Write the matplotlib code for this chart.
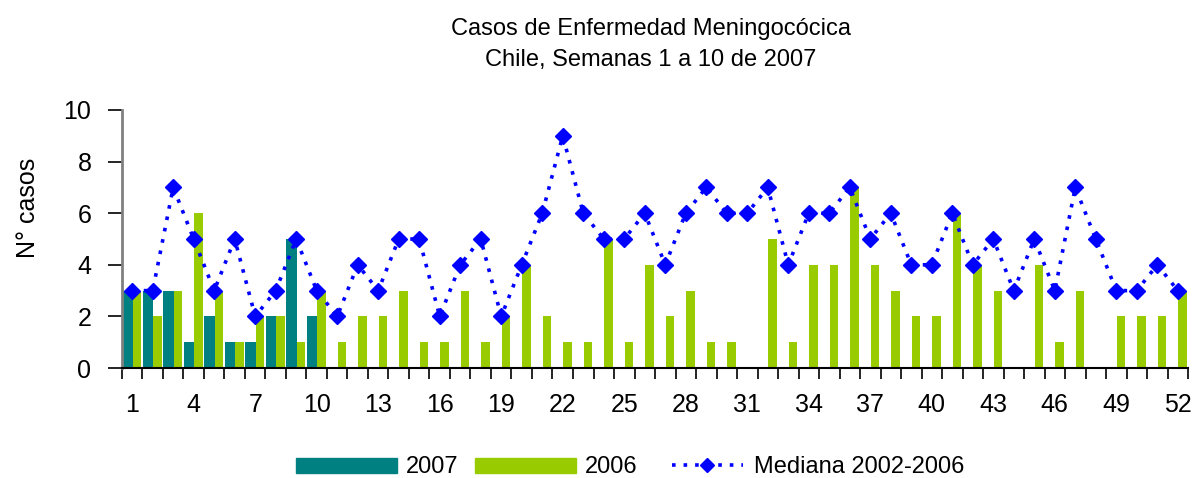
import numpy as np
import matplotlib.pyplot as plt
from matplotlib.lines import Line2D
from matplotlib.patches import Patch

plt.rcParams['font.family'] = ['Liberation Sans', 'DejaVu Sans']

# Semanas epidemiológicas
semanas = np.arange(1, 53)

# Casos 2007 (solo semanas 1 a 10)
casos_2007 = [3, 3, 3, 1, 2, 1, 1, 2, 5, 2]

# Casos 2006
casos_2006 = [3, 2, 3, 6, 3, 1, 2, 2, 1, 3,
              1, 2, 2, 3, 1, 1, 3, 1, 2, 4,
              2, 1, 1, 5, 1, 4, 2, 3, 1, 1,
              0, 5, 1, 4, 4, 7, 4, 3, 2, 2,
              6, 4, 3, 0, 4, 1, 3, 0, 2, 2,
              2, 3]

# Mediana 2002-2006
mediana = [3, 3, 7, 5, 3, 5, 2, 3, 5, 3,
           2, 4, 3, 5, 5, 2, 4, 5, 2, 4,
           6, 9, 6, 5, 5, 6, 4, 6, 7, 6,
           6, 7, 4, 6, 6, 7, 5, 6, 4, 4,
           6, 4, 5, 3, 5, 3, 7, 5, 3, 3,
           4, 3]

etiquetas_x = [str(s) for s in range(1, 53, 3)]

c2007 = '#008080'
c2006 = '#99CC00'
cmed = '#0000FF'
punteado = (0, (1, 2.2))

fig = plt.figure(figsize=(11.98, 4.78), dpi=100)
ax = fig.add_axes([0.1018, 0.2301, 0.8899, 0.5398])

x07 = semanas[:len(casos_2007)]
ax.bar(x07 - 0.48, casos_2007, width=0.5, align='edge', color=c2007, zorder=2)
ax.bar(semanas + 0.02, casos_2006, width=0.42, align='edge', color=c2006, zorder=2)
ax.plot(semanas, mediana, color=cmed, linestyle=punteado, linewidth=2.6,
        marker='D', markersize=8, zorder=3)

ax.set_xlim(0.5, 52.5)
ax.set_ylim(0, 10)
ax.set_yticks(range(0, 11, 2))
ax.set_xticks(range(1, 53, 3))
ax.set_xticklabels(etiquetas_x)
ax.set_xticks(np.arange(0.5, 53, 1), minor=True)
ax.tick_params(axis='x', which='major', length=0, labelsize=18, pad=18)
ax.tick_params(axis='x', which='minor', length=8, width=1.2, color='black')
ax.tick_params(axis='y', length=10, width=1.2, color='black', labelsize=18, pad=12)

for s in ['top', 'right']:
    ax.spines[s].set_visible(False)
ax.spines['left'].set_color('#808080')
ax.spines['left'].set_linewidth(2)
ax.spines['bottom'].set_color('black')
ax.spines['bottom'].set_linewidth(1.5)

ax.set_ylabel('N° casos', fontsize=18)
ax.yaxis.set_label_coords(-0.077, 0.62)

fig.text(0.543, 0.94, 'Casos de Enfermedad Meningocócica', ha='center', va='center', fontsize=17)
fig.text(0.543, 0.875, 'Chile, Semanas 1 a 10 de 2007', ha='center', va='center', fontsize=17)

barras = [Patch(color=c2007, label='2007'),
          Patch(color=c2006, label='2006')]
linea = [Line2D([], [], color=cmed, linestyle=punteado, linewidth=2.6,
                marker='D', markersize=7, label='Mediana 2002-2006')]
fig.legend(handles=barras, loc='center left', bbox_to_anchor=(0.247, 0.022), ncol=2,
           frameon=False, fontsize=17, handlelength=4.3, handleheight=0.6,
           handletextpad=0.35, columnspacing=0.7, borderpad=0, borderaxespad=0)
fig.legend(handles=linea, loc='center left', bbox_to_anchor=(0.561, 0.022),
           frameon=False, fontsize=17, handlelength=3.0, handletextpad=0.45,
           borderpad=0, borderaxespad=0, numpoints=1)

fig.savefig('out.png', dpi=100)
